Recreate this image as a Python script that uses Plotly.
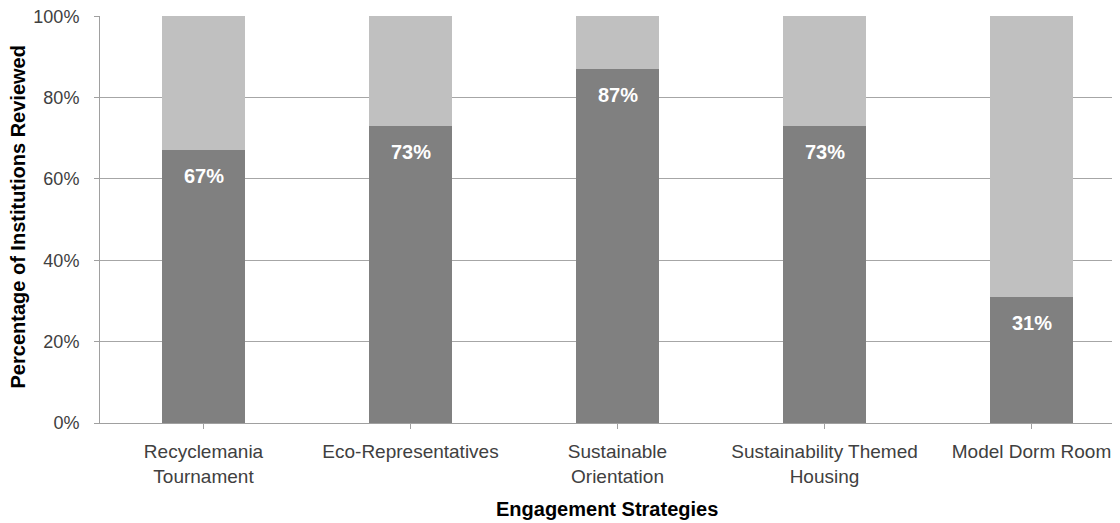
import plotly.graph_objects as go

categories = ["Recyclemania<br>Tournament", "Eco-Representatives", "Sustainable<br>Orientation",
              "Sustainability Themed<br>Housing", "Model Dorm Room"]
yes_pct = [0.67, 0.73, 0.87, 0.73, 0.31]
no_pct = [1 - v for v in yes_pct]
labels = ["67%", "73%", "87%", "73%", "31%"]
y_ticks = [0, 0.2, 0.4, 0.6, 0.8, 1.0]
y_tick_text = ["0%", "20%", "40%", "60%", "80%", "100%"]

FONT = "Liberation Sans, Arial, sans-serif"
# page body has an 8px margin; figure sized to fit the 1120x523 window
W, H = 1112, 515
ML, MR, MT, MB = 92, 0, 8, 100
PW, PH = W - ML - MR, H - MT - MB

fig = go.Figure()
fig.add_trace(go.Bar(x=list(range(len(categories))), y=yes_pct, marker=dict(color="#808080", line=dict(width=0)),
                     width=0.4, hoverinfo="skip"))
fig.add_trace(go.Bar(x=list(range(len(categories))), y=no_pct, marker=dict(color="#c0c0c0", line=dict(width=0)),
                     width=0.4, hoverinfo="skip"))

for i, (v, t) in enumerate(zip(yes_pct, labels)):
    fig.add_annotation(x=i, y=v, text=t, showarrow=False, yanchor="middle", yshift=-26,
                       font=dict(family=FONT, size=20, color="white", weight="bold"))

# axis titles as annotations for precise placement
fig.add_annotation(xref="paper", yref="paper", x=-82 / PW, y=0.505, textangle=-90,
                   text="<b>Percentage of Institutions Reviewed</b>", showarrow=False,
                   xanchor="center", yanchor="middle",
                   font=dict(family=FONT, size=20, color="black"))
fig.add_annotation(xref="paper", yref="paper", x=(607 - 100) / PW, y=-86 / PH,
                   text="<b>Engagement Strategies</b>", showarrow=False,
                   xanchor="center", yanchor="middle",
                   font=dict(family=FONT, size=20, color="black"))

fig.update_layout(
    barmode="stack",
    width=W, height=H,
    margin=dict(l=ML, r=MR, t=MT, b=MB, autoexpand=False),
    paper_bgcolor="white", plot_bgcolor="white",
    showlegend=False,
    font=dict(family=FONT, color="#404040"),
)
fig.update_xaxes(
    range=[-0.5, 4.5 - 15 / 207], automargin=False,
    tickmode="array", tickvals=list(range(len(categories))), ticktext=categories,
    tickson="boundaries", ticks="outside", ticklen=5, tickcolor="#a0a0a0",
    showline=True, linecolor="#a0a0a0", linewidth=1,
    showgrid=False, zeroline=False,
    tickfont=dict(family=FONT, size=19, color="#404040"),
    ticklabelstandoff=6, ticklabeloverflow="allow",
)
fig.update_yaxes(
    range=[0, 1.0005], automargin=False,
    tickmode="array", tickvals=y_ticks, ticktext=y_tick_text,
    ticks="outside", ticklen=5, tickcolor="#a0a0a0",
    showline=True, linecolor="#a0a0a0", linewidth=1,
    showgrid=True, gridcolor="#a6a6a6", gridwidth=1, zeroline=False,
    tickfont=dict(family=FONT, size=18, color="#404040"),
    ticklabelstandoff=11, ticklabeloverflow="allow",
)

fig.write_html("out.html")
